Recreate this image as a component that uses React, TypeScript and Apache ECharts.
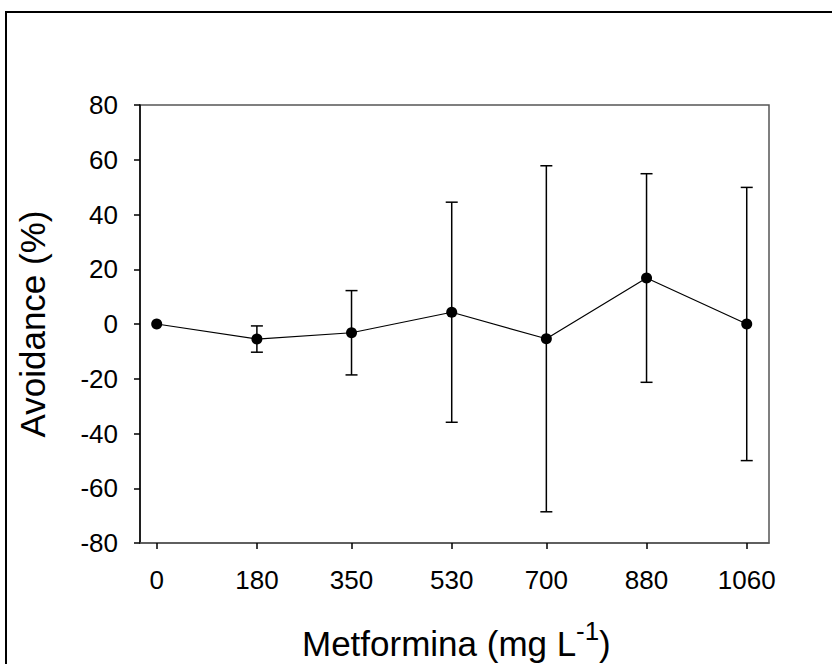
import React, { useEffect, useRef } from "react";
import * as echarts from "echarts";

const concentrations = [0, 180, 350, 530, 700, 880, 1060];
const avoidanceMean = [0, -5.5, -3.2, 4.3, -5.4, 16.8, 0];
const avoidanceErr = [0, 4.8, 15.4, 40.2, 63.2, 38.1, 49.9];
const yTicks = { min: -80, max: 80, interval: 20 };
const xRange = { min: -30, max: 1100 };

const FONT = "'Liberation Sans', Arial, sans-serif";

export default function App() {
  const ref = useRef<HTMLDivElement>(null);
  useEffect(() => {
    if (!ref.current) return;
    const chart = echarts.init(ref.current, undefined, { renderer: "svg" });
    const lineData = concentrations.map((c, i) => [c, avoidanceMean[i]]);
    const errData = concentrations.map((c, i) => [
      c,
      avoidanceMean[i] - avoidanceErr[i],
      avoidanceMean[i] + avoidanceErr[i],
    ]);
    chart.setOption({
      animation: false,
      backgroundColor: "#ffffff",
      graphic: [
        {
          type: "rect",
          shape: { x: 6, y: 12, width: 900, height: 800 },
          style: { fill: "none", stroke: "#000", lineWidth: 2 },
          z: -1,
        },
        {
          type: "text",
          x: 302,
          y: 643,
          style: {
            text: "Metformina (mg L",
            font: "35px 'Liberation Sans', Arial, sans-serif",
            fill: "#000",
            align: "left",
            verticalAlign: "middle",
          },
        },
        {
          type: "text",
          x: 576,
          y: 631,
          style: {
            text: "-1",
            font: "26px 'Liberation Sans', Arial, sans-serif",
            fill: "#000",
            align: "left",
            verticalAlign: "middle",
          },
        },
        {
          type: "text",
          x: 599,
          y: 643,
          style: {
            text: ")",
            font: "35px 'Liberation Sans', Arial, sans-serif",
            fill: "#000",
            align: "left",
            verticalAlign: "middle",
          },
        },
      ],
      grid: {
        left: 140,
        top: 105,
        right: 63,
        bottom: 121,
        outerBoundsMode: "none",
        containLabel: false,
        show: true,
        borderColor: "#555",
        borderWidth: 1.5,
        backgroundColor: "transparent",
      },
      xAxis: {
        type: "value",
        min: xRange.min,
        max: xRange.max,
        splitLine: { show: false },
        axisLine: { show: true, onZero: false, lineStyle: { color: "#555", width: 1.5 } },
        axisTick: {
          show: true,
          inside: false,
          length: 6,
          lineStyle: { color: "#000", width: 1.5 },
          customValues: concentrations,
        },
        axisLabel: {
          customValues: concentrations,
          formatter: (v: number) => String(v),
          fontSize: 26,
          fontFamily: FONT,
          color: "#000",
          margin: 24,
        },
      },
      yAxis: {
        type: "value",
        min: yTicks.min,
        max: yTicks.max,
        interval: yTicks.interval,
        splitLine: { show: false },
        axisLine: { show: true, onZero: false, lineStyle: { color: "#000", width: 1.5 } },
        axisTick: { show: true, inside: false, length: 6, lineStyle: { color: "#000", width: 1.5 } },
        axisLabel: { fontSize: 26, fontFamily: FONT, color: "#000", margin: 22 },
        name: "Avoidance (%)",
        nameLocation: "middle",
        nameRotate: 90,
        nameGap: 90,
        nameTextStyle: { fontSize: 35, fontFamily: FONT, color: "#000" },
      },
      series: [
        {
          type: "custom",
          data: errData,
          z: 2,
          renderItem: (params: any, api: any) => {
            const x = api.value(0);
            const lo = api.value(1);
            const hi = api.value(2);
            if (hi - lo <= 0) return { type: "group", children: [] };
            const pLo = api.coord([x, lo]);
            const pHi = api.coord([x, hi]);
            const hw = 6;
            const style = { stroke: "#000", lineWidth: 1.5 };
            return {
              type: "group",
              children: [
                { type: "line", shape: { x1: pLo[0], y1: pLo[1], x2: pHi[0], y2: pHi[1] }, style },
                { type: "line", shape: { x1: pHi[0] - hw, y1: pHi[1], x2: pHi[0] + hw, y2: pHi[1] }, style },
                { type: "line", shape: { x1: pLo[0] - hw, y1: pLo[1], x2: pLo[0] + hw, y2: pLo[1] }, style },
              ],
            };
          },
        },
        {
          type: "line",
          data: lineData,
          z: 3,
          symbol: "circle",
          symbolSize: 11,
          itemStyle: { color: "#000" },
          lineStyle: { color: "#000", width: 1.2 },
        },
      ],
    });
    return () => chart.dispose();
  }, []);
  return (
    <div
      ref={ref}
      style={{ position: "absolute", left: 0, top: 0, width: 832, height: 664 }}
    />
  );
}
